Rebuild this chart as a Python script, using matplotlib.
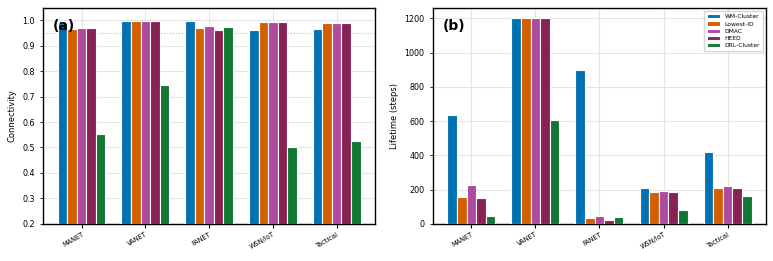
import numpy as np
import matplotlib
matplotlib.use("Agg")
import matplotlib.pyplot as plt

scenarios = ["MANET", "VANET", "FANET", "WSN/IoT", "Tactical"]
methods = ["WM-Cluster", "Lowest-ID", "DMAC", "HEED", "DRL-Cluster"]
colors = ["#0072B2", "#D55E00", "#B04A9F", "#882255", "#117733"]

# connectivity per method, one value per scenario
connectivity = {
    "WM-Cluster": [0.990, 0.995, 0.998, 0.961, 0.964],
    "Lowest-ID": [0.963, 0.998, 0.970, 0.992, 0.988],
    "DMAC": [0.970, 0.998, 0.975, 0.992, 0.988],
    "HEED": [0.967, 0.998, 0.961, 0.992, 0.987],
    "DRL-Cluster": [0.553, 0.744, 0.973, 0.502, 0.524],
}

# network lifetime in steps
lifetime = {
    "WM-Cluster": [636, 1200, 897, 212, 421],
    "Lowest-ID": [159, 1200, 37, 188, 212],
    "DMAC": [227, 1200, 44, 194, 222],
    "HEED": [154, 1200, 25, 184, 212],
    "DRL-Cluster": [47, 606, 43, 80, 161],
}

fig = plt.figure(figsize=(7.73, 2.61), dpi=100)
ax1 = fig.add_axes([0.056, 0.142, 0.429, 0.827])
ax2 = fig.add_axes([0.560, 0.142, 0.431, 0.827])

x = np.arange(len(scenarios))
width = 0.15


def draw(ax, data, ylabel, tag):
    for i, m in enumerate(methods):
        ax.bar(x + (i - 2) * width, data[m], width, color=colors[i],
               edgecolor="white", linewidth=0.8, label=m, zorder=3)
    ax.set_xticks(x)
    ax.set_xticklabels(scenarios, rotation=30, ha="right", fontsize=4.8,
                       rotation_mode="anchor")
    ax.tick_params(axis="y", labelsize=5.8, length=2.5, width=0.6)
    ax.tick_params(axis="x", length=3, width=0.8, pad=2)
    ax.set_ylabel(ylabel, fontsize=6)
    ax.set_xlim(-0.6, 4.6)
    ax.grid(True, color="#e3e3e3", linewidth=0.8, zorder=0)
    for s in ax.spines.values():
        s.set_linewidth(1.0)
        s.set_color("black")
    ax.text(0.03, 0.95, tag, transform=ax.transAxes, fontsize=10,
            fontweight="bold", va="top", ha="left", zorder=5)


draw(ax1, connectivity, "Connectivity", "(a)")
ax1.set_ylim(0.2, 1.047)
ax1.set_yticks(np.arange(0.2, 1.01, 0.1))
ax1.axhline(0.95, color="#bbbbbb", linestyle=":", linewidth=0.8, zorder=2)

draw(ax2, lifetime, "Lifetime (steps)", "(b)")
ax2.set_ylim(0, 1260)
ax2.legend(loc="upper right", fontsize=4.3, frameon=True, fancybox=False,
           edgecolor="#cccccc", handlelength=2.2, borderpad=0.5,
           labelspacing=0.35)

fig.savefig("out.png", dpi=100)
